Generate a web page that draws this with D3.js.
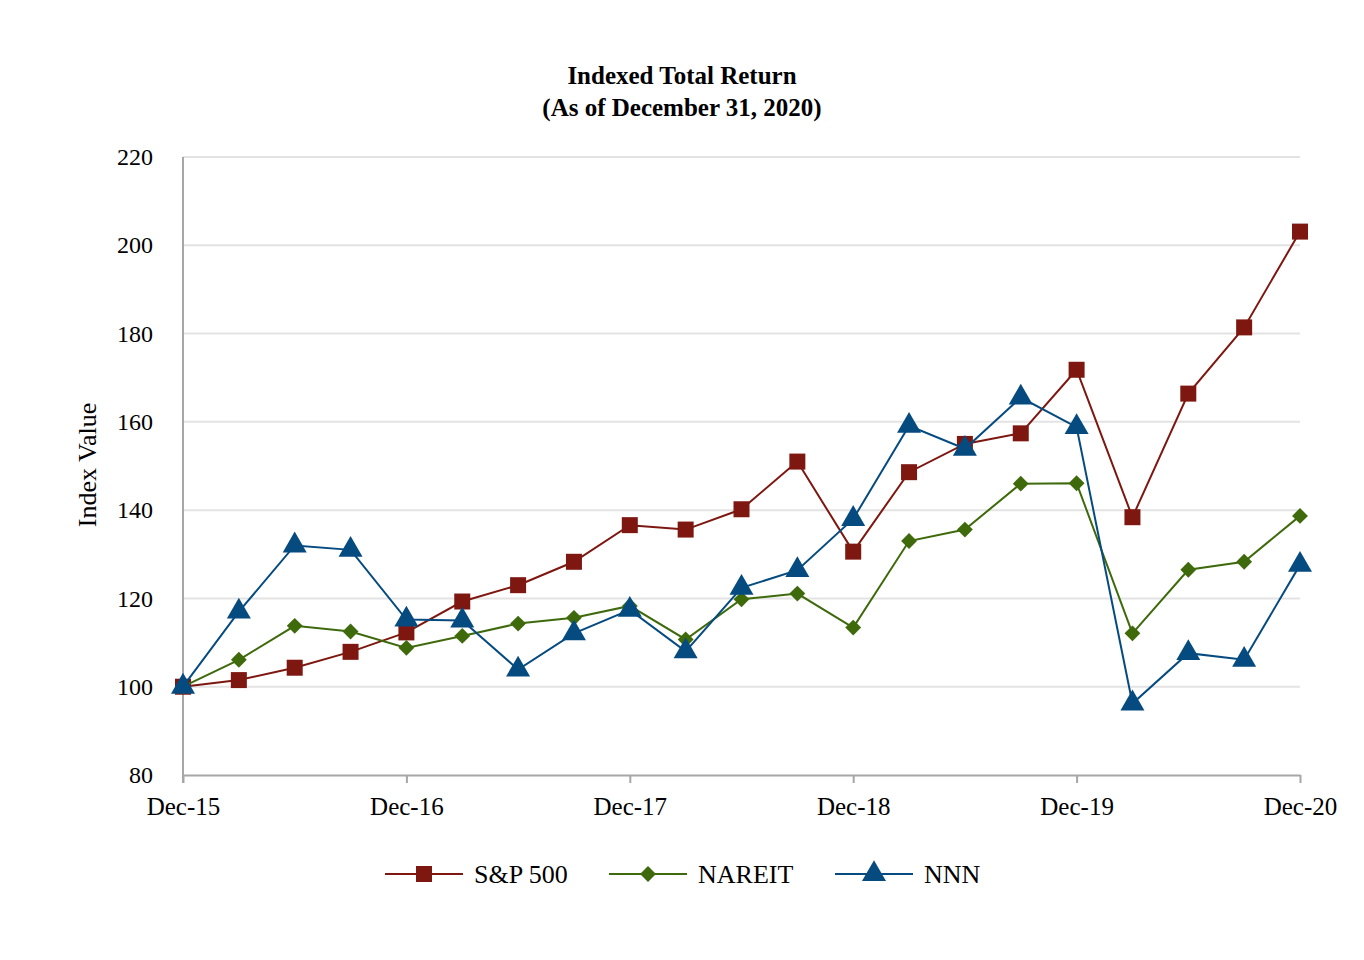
<!DOCTYPE html>
<html>
<head>
<meta charset="utf-8">
<script src="https://cdn.jsdelivr.net/npm/d3@7"></script>
<style>
  body { margin: 0; background: #fff; }
  text { font-family: "Liberation Serif", "Times New Roman", serif; fill: #000; }
</style>
</head>
<body>
<div id="app"></div>
<script>
// quarterly points, Dec-15 .. Dec-20
const quarters = d3.range(21)
const year_labels = ["Dec-15","Dec-16","Dec-17","Dec-18","Dec-19","Dec-20"]
const y_ticks = [80,100,120,140,160,180,200,220]

const sp500 = [100,101.5,104.3,107.9,112.3,119.3,123,128.3,136.6,135.6,140.2,151,130.6,148.6,155,157.4,171.8,138.4,166.4,181.4,203.1]
const nareit = [100,106.1,113.8,112.5,108.8,111.5,114.3,115.6,118.3,110.7,119.8,121.1,113.4,133,135.6,146,146.1,112.1,126.5,128.3,138.7]
const nnn = [100,117,132,131,115.2,115,103.9,112.1,117.4,108,122.4,126.4,138,159.1,153.9,165.5,158.8,96.2,107.6,106.1,127.6]

const series = [
   {name:"S&P 500", values:sp500, color:"#7d1710", shape:"square"},
   {name:"NAREIT", values:nareit, color:"#3e6a0c", shape:"diamond"},
   {name:"NNN", values:nnn, color:"#064b80", shape:"triangle"}
]

const make_plot = (root_node) => {
   let width = 1364
   let height = 960
   let left = 183, right = 1300, top = 157, bottom = 775
   let axis_color = "#a6a6a6"
   let grid_color = "#e3e3e3"

   let svg = d3.select(root_node)
      .append("svg")
      .attr("width",width)
      .attr("height",height)

   let x = d3.scaleLinear().domain([0,20]).range([left,right])
   let y = d3.scaleLinear().domain([80,220]).range([bottom,top])

   // title
   let title = svg.append("text")
      .attr("x",682)
      .attr("text-anchor","middle")
      .attr("font-weight","bold")
      .attr("font-size","25px")
   title.append("tspan").attr("x",682).attr("y",84).text("Indexed Total Return")
   title.append("tspan").attr("x",682).attr("y",116).text("(As of December 31, 2020)")

   // gridlines
   svg.append("g")
      .selectAll("line")
      .data(y_ticks.filter(d=>d>80))
      .join("line")
      .attr("x1",left).attr("x2",right)
      .attr("y1",d=>y(d)).attr("y2",d=>y(d))
      .attr("stroke",grid_color)
      .attr("stroke-width",2)

   // y axis
   let yaxis = svg.append("g")
      .attr("transform",`translate(${left},0)`)
      .call(d3.axisLeft(y).tickValues(y_ticks).tickSize(0).tickPadding(30))
   yaxis.select(".domain").remove()
   yaxis.selectAll("text").attr("font-size","24px").attr("dy","0.32em")
   svg.append("line")
      .attr("x1",left).attr("x2",left)
      .attr("y1",top).attr("y2",bottom+8)
      .attr("stroke",axis_color).attr("stroke-width",2)

   // x axis
   let xaxis = svg.append("g")
      .attr("transform",`translate(0,${bottom})`)
      .call(d3.axisBottom(x)
         .tickValues([0,4,8,12,16,20])
         .tickFormat((d,i)=>year_labels[i])
         .tickSize(8)
         .tickSizeOuter(0)
         .tickPadding(14))
   xaxis.select(".domain").attr("stroke",axis_color).attr("stroke-width",2)
   xaxis.selectAll(".tick line").attr("stroke",axis_color).attr("stroke-width",2)
   xaxis.selectAll("text").attr("font-size","25px")

   svg.append("text")
      .attr("transform",`translate(96,465) rotate(-90)`)
      .attr("text-anchor","middle")
      .attr("font-size","26px")
      .text("Index Value")

   const symbol_for = {
      square: d3.symbol(d3.symbolSquare, 256),
      diamond: d3.symbol(d3.symbolDiamond2, 160),
      triangle: d3.symbol(d3.symbolTriangle, 250)
   }

   const line = d3.line()
      .x((d,i)=>x(quarters[i]))
      .y(d=>y(d))

   series.forEach(s=>{
      let g = svg.append("g")
      g.append("path")
         .attr("d",line(s.values))
         .attr("fill","none")
         .attr("stroke",s.color)
         .attr("stroke-width",2)
      g.selectAll("path.mark")
         .data(s.values)
         .join("path")
         .attr("class","mark")
         .attr("d",symbol_for[s.shape])
         .attr("transform",(d,i)=>`translate(${x(quarters[i])},${y(d)})`)
         .attr("fill",s.color)
   })

   // legend
   const legend_x = [385,609,835]
   let legend = svg.append("g")
      .selectAll("g")
      .data(series)
      .join("g")
      .attr("transform",(d,i)=>`translate(${legend_x[i]},874)`)
   legend.append("line")
      .attr("x1",0).attr("x2",78)
      .attr("stroke",d=>d.color).attr("stroke-width",2)
   legend.append("path")
      .attr("d",d=>symbol_for[d.shape]())
      .attr("transform","translate(39,0)")
      .attr("fill",d=>d.color)
   legend.append("text")
      .attr("x",89)
      .attr("dy","0.35em")
      .attr("font-size","26px")
      .text(d=>d.name)
}

make_plot("#app")
</script>
</body>
</html>
